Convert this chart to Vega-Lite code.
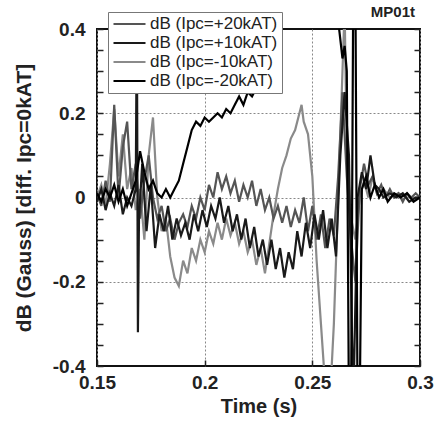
{
 "$schema": "https://vega.github.io/schema/vega-lite/v6.json",
 "width": 323, "height": 337,
 "autosize": "none",
 "padding": {"left": 97, "top": 29, "right": 20, "bottom": 55},
 "background": "white",
 "config": {"view": {"stroke": "#111", "strokeWidth": 2}, "font": "Liberation Sans"},
 "title": {"text": "MP01t", "anchor": "end", "frame": "group", "dx": -5, "fontSize": 15, "fontWeight": "bold", "font": "Liberation Sans", "color": "#222", "offset": -8},
 "data": {"values": [
  {"t":0.150,"v":0.0,"s":"-10"},{"t":0.152,"v":0.03,"s":"-10"},{"t":0.154,"v":-0.02,"s":"-10"},{"t":0.156,"v":0.08,"s":"-10"},{"t":0.158,"v":0.21,"s":"-10"},{"t":0.160,"v":0.05,"s":"-10"},{"t":0.162,"v":0.15,"s":"-10"},{"t":0.164,"v":0.02,"s":"-10"},{"t":0.166,"v":0.07,"s":"-10"},{"t":0.168,"v":-0.03,"s":"-10"},{"t":0.170,"v":0.02,"s":"-10"},{"t":0.172,"v":-0.1,"s":"-10"},{"t":0.174,"v":0.1,"s":"-10"},{"t":0.176,"v":0.19,"s":"-10"},{"t":0.178,"v":0.0,"s":"-10"},{"t":0.180,"v":-0.08,"s":"-10"},{"t":0.182,"v":-0.05,"s":"-10"},{"t":0.184,"v":-0.14,"s":"-10"},{"t":0.186,"v":-0.19,"s":"-10"},{"t":0.188,"v":-0.21,"s":"-10"},{"t":0.190,"v":-0.15,"s":"-10"},{"t":0.192,"v":-0.18,"s":"-10"},{"t":0.194,"v":-0.12,"s":"-10"},{"t":0.196,"v":-0.15,"s":"-10"},{"t":0.198,"v":-0.1,"s":"-10"},{"t":0.200,"v":-0.13,"s":"-10"},{"t":0.202,"v":-0.08,"s":"-10"},{"t":0.204,"v":-0.11,"s":"-10"},{"t":0.206,"v":-0.06,"s":"-10"},{"t":0.208,"v":-0.1,"s":"-10"},{"t":0.210,"v":-0.05,"s":"-10"},{"t":0.212,"v":-0.09,"s":"-10"},{"t":0.214,"v":-0.06,"s":"-10"},{"t":0.216,"v":-0.11,"s":"-10"},{"t":0.218,"v":-0.08,"s":"-10"},{"t":0.220,"v":-0.13,"s":"-10"},{"t":0.222,"v":-0.1,"s":"-10"},{"t":0.224,"v":-0.16,"s":"-10"},{"t":0.226,"v":-0.12,"s":"-10"},{"t":0.228,"v":-0.18,"s":"-10"},{"t":0.230,"v":-0.11,"s":"-10"},{"t":0.232,"v":-0.04,"s":"-10"},{"t":0.234,"v":0.02,"s":"-10"},{"t":0.236,"v":0.07,"s":"-10"},{"t":0.238,"v":0.1,"s":"-10"},{"t":0.240,"v":0.14,"s":"-10"},{"t":0.242,"v":0.16,"s":"-10"},{"t":0.244,"v":0.2,"s":"-10"},{"t":0.245,"v":0.22,"s":"-10"},{"t":0.246,"v":0.18,"s":"-10"},{"t":0.248,"v":0.15,"s":"-10"},{"t":0.250,"v":0.05,"s":"-10"},{"t":0.252,"v":-0.15,"s":"-10"},{"t":0.254,"v":-0.3,"s":"-10"},{"t":0.256,"v":-0.45,"s":"-10"},{"t":0.258,"v":-0.5,"s":"-10"},{"t":0.260,"v":-0.3,"s":"-10"},{"t":0.262,"v":0.0,"s":"-10"},{"t":0.264,"v":0.3,"s":"-10"},{"t":0.265,"v":0.45,"s":"-10"},{"t":0.266,"v":0.1,"s":"-10"},{"t":0.268,"v":-0.05,"s":"-10"},{"t":0.270,"v":-0.1,"s":"-10"},{"t":0.272,"v":0.0,"s":"-10"},{"t":0.274,"v":0.04,"s":"-10"},{"t":0.276,"v":0.0,"s":"-10"},{"t":0.278,"v":0.05,"s":"-10"},{"t":0.280,"v":0.01,"s":"-10"},{"t":0.283,"v":0.02,"s":"-10"},{"t":0.286,"v":0.0,"s":"-10"},{"t":0.290,"v":0.01,"s":"-10"},{"t":0.294,"v":0.0,"s":"-10"},{"t":0.300,"v":0.0,"s":"-10"},

  {"t":0.150,"v":0.01,"s":"+20"},{"t":0.152,"v":-0.02,"s":"+20"},{"t":0.154,"v":0.04,"s":"+20"},{"t":0.156,"v":-0.01,"s":"+20"},{"t":0.158,"v":0.22,"s":"+20"},{"t":0.160,"v":0.0,"s":"+20"},{"t":0.162,"v":0.12,"s":"+20"},{"t":0.164,"v":0.18,"s":"+20"},{"t":0.166,"v":0.02,"s":"+20"},{"t":0.168,"v":0.08,"s":"+20"},{"t":0.170,"v":-0.05,"s":"+20"},{"t":0.172,"v":0.04,"s":"+20"},{"t":0.174,"v":0.1,"s":"+20"},{"t":0.176,"v":0.0,"s":"+20"},{"t":0.178,"v":-0.05,"s":"+20"},{"t":0.180,"v":-0.02,"s":"+20"},{"t":0.182,"v":-0.08,"s":"+20"},{"t":0.184,"v":-0.05,"s":"+20"},{"t":0.186,"v":-0.1,"s":"+20"},{"t":0.188,"v":-0.06,"s":"+20"},{"t":0.190,"v":-0.04,"s":"+20"},{"t":0.192,"v":-0.07,"s":"+20"},{"t":0.194,"v":-0.02,"s":"+20"},{"t":0.196,"v":-0.05,"s":"+20"},{"t":0.198,"v":0.0,"s":"+20"},{"t":0.200,"v":-0.03,"s":"+20"},{"t":0.202,"v":0.03,"s":"+20"},{"t":0.204,"v":0.0,"s":"+20"},{"t":0.206,"v":0.06,"s":"+20"},{"t":0.208,"v":0.02,"s":"+20"},{"t":0.210,"v":0.05,"s":"+20"},{"t":0.212,"v":0.01,"s":"+20"},{"t":0.214,"v":0.04,"s":"+20"},{"t":0.216,"v":-0.01,"s":"+20"},{"t":0.218,"v":0.03,"s":"+20"},{"t":0.220,"v":0.0,"s":"+20"},{"t":0.222,"v":0.04,"s":"+20"},{"t":0.224,"v":-0.02,"s":"+20"},{"t":0.226,"v":0.02,"s":"+20"},{"t":0.228,"v":-0.03,"s":"+20"},{"t":0.230,"v":0.0,"s":"+20"},{"t":0.232,"v":-0.05,"s":"+20"},{"t":0.234,"v":-0.02,"s":"+20"},{"t":0.236,"v":-0.06,"s":"+20"},{"t":0.238,"v":-0.02,"s":"+20"},{"t":0.240,"v":-0.07,"s":"+20"},{"t":0.242,"v":-0.03,"s":"+20"},{"t":0.244,"v":-0.06,"s":"+20"},{"t":0.246,"v":0.0,"s":"+20"},{"t":0.248,"v":-0.08,"s":"+20"},{"t":0.250,"v":-0.02,"s":"+20"},{"t":0.252,"v":-0.1,"s":"+20"},{"t":0.254,"v":-0.04,"s":"+20"},{"t":0.256,"v":-0.12,"s":"+20"},{"t":0.258,"v":-0.05,"s":"+20"},{"t":0.260,"v":-0.09,"s":"+20"},{"t":0.262,"v":0.05,"s":"+20"},{"t":0.264,"v":0.25,"s":"+20"},{"t":0.266,"v":0.05,"s":"+20"},{"t":0.268,"v":-0.1,"s":"+20"},{"t":0.270,"v":-0.2,"s":"+20"},{"t":0.272,"v":0.02,"s":"+20"},{"t":0.274,"v":0.08,"s":"+20"},{"t":0.276,"v":0.03,"s":"+20"},{"t":0.278,"v":0.05,"s":"+20"},{"t":0.280,"v":0.01,"s":"+20"},{"t":0.282,"v":0.03,"s":"+20"},{"t":0.284,"v":0.0,"s":"+20"},{"t":0.286,"v":0.02,"s":"+20"},{"t":0.288,"v":0.0,"s":"+20"},{"t":0.290,"v":0.01,"s":"+20"},{"t":0.292,"v":-0.01,"s":"+20"},{"t":0.294,"v":0.01,"s":"+20"},{"t":0.296,"v":0.0,"s":"+20"},{"t":0.298,"v":0.01,"s":"+20"},{"t":0.300,"v":0.0,"s":"+20"},

  {"t":0.150,"v":-0.01,"s":"+10"},{"t":0.152,"v":0.02,"s":"+10"},{"t":0.154,"v":-0.03,"s":"+10"},{"t":0.156,"v":0.01,"s":"+10"},{"t":0.158,"v":-0.02,"s":"+10"},{"t":0.160,"v":0.03,"s":"+10"},{"t":0.162,"v":-0.04,"s":"+10"},{"t":0.164,"v":0.0,"s":"+10"},{"t":0.166,"v":-0.02,"s":"+10"},{"t":0.168,"v":0.02,"s":"+10"},{"t":0.1685,"v":0.45,"s":"+10"},{"t":0.169,"v":-0.32,"s":"+10"},{"t":0.1695,"v":-0.05,"s":"+10"},{"t":0.171,"v":0.08,"s":"+10"},{"t":0.173,"v":-0.08,"s":"+10"},{"t":0.175,"v":0.03,"s":"+10"},{"t":0.177,"v":-0.12,"s":"+10"},{"t":0.179,"v":-0.04,"s":"+10"},{"t":0.181,"v":-0.08,"s":"+10"},{"t":0.183,"v":-0.02,"s":"+10"},{"t":0.185,"v":-0.1,"s":"+10"},{"t":0.187,"v":-0.05,"s":"+10"},{"t":0.189,"v":-0.09,"s":"+10"},{"t":0.191,"v":-0.06,"s":"+10"},{"t":0.193,"v":-0.1,"s":"+10"},{"t":0.195,"v":-0.04,"s":"+10"},{"t":0.197,"v":-0.08,"s":"+10"},{"t":0.199,"v":-0.03,"s":"+10"},{"t":0.201,"v":-0.07,"s":"+10"},{"t":0.203,"v":-0.02,"s":"+10"},{"t":0.205,"v":-0.05,"s":"+10"},{"t":0.207,"v":0.0,"s":"+10"},{"t":0.209,"v":-0.06,"s":"+10"},{"t":0.211,"v":-0.02,"s":"+10"},{"t":0.213,"v":-0.08,"s":"+10"},{"t":0.215,"v":-0.04,"s":"+10"},{"t":0.217,"v":-0.1,"s":"+10"},{"t":0.219,"v":-0.05,"s":"+10"},{"t":0.221,"v":-0.12,"s":"+10"},{"t":0.223,"v":-0.07,"s":"+10"},{"t":0.225,"v":-0.14,"s":"+10"},{"t":0.227,"v":-0.1,"s":"+10"},{"t":0.229,"v":-0.16,"s":"+10"},{"t":0.231,"v":-0.1,"s":"+10"},{"t":0.233,"v":-0.17,"s":"+10"},{"t":0.235,"v":-0.12,"s":"+10"},{"t":0.237,"v":-0.19,"s":"+10"},{"t":0.239,"v":-0.13,"s":"+10"},{"t":0.241,"v":-0.17,"s":"+10"},{"t":0.243,"v":-0.08,"s":"+10"},{"t":0.245,"v":-0.14,"s":"+10"},{"t":0.247,"v":-0.06,"s":"+10"},{"t":0.249,"v":-0.12,"s":"+10"},{"t":0.251,"v":-0.04,"s":"+10"},{"t":0.253,"v":-0.1,"s":"+10"},{"t":0.255,"v":-0.03,"s":"+10"},{"t":0.257,"v":-0.12,"s":"+10"},{"t":0.259,"v":-0.05,"s":"+10"},{"t":0.261,"v":-0.14,"s":"+10"},{"t":0.263,"v":0.1,"s":"+10"},{"t":0.265,"v":0.25,"s":"+10"},{"t":0.267,"v":0.1,"s":"+10"},{"t":0.269,"v":-0.5,"s":"+10"},{"t":0.271,"v":0.0,"s":"+10"},{"t":0.273,"v":0.06,"s":"+10"},{"t":0.275,"v":0.02,"s":"+10"},{"t":0.277,"v":0.1,"s":"+10"},{"t":0.279,"v":0.03,"s":"+10"},{"t":0.281,"v":0.02,"s":"+10"},{"t":0.283,"v":0.0,"s":"+10"},{"t":0.286,"v":0.01,"s":"+10"},{"t":0.289,"v":0.0,"s":"+10"},{"t":0.292,"v":0.01,"s":"+10"},{"t":0.295,"v":-0.01,"s":"+10"},{"t":0.298,"v":0.0,"s":"+10"},{"t":0.300,"v":0.0,"s":"+10"},

  {"t":0.150,"v":0.01,"s":"-20"},{"t":0.152,"v":-0.01,"s":"-20"},{"t":0.154,"v":0.02,"s":"-20"},{"t":0.156,"v":0.0,"s":"-20"},{"t":0.158,"v":0.03,"s":"-20"},{"t":0.160,"v":-0.01,"s":"-20"},{"t":0.162,"v":0.02,"s":"-20"},{"t":0.164,"v":-0.02,"s":"-20"},{"t":0.166,"v":0.01,"s":"-20"},{"t":0.168,"v":0.04,"s":"-20"},{"t":0.170,"v":0.11,"s":"-20"},{"t":0.172,"v":0.06,"s":"-20"},{"t":0.174,"v":0.02,"s":"-20"},{"t":0.176,"v":0.04,"s":"-20"},{"t":0.178,"v":0.01,"s":"-20"},{"t":0.180,"v":0.0,"s":"-20"},{"t":0.182,"v":0.02,"s":"-20"},{"t":0.184,"v":0.0,"s":"-20"},{"t":0.186,"v":0.02,"s":"-20"},{"t":0.188,"v":0.04,"s":"-20"},{"t":0.190,"v":0.08,"s":"-20"},{"t":0.192,"v":0.12,"s":"-20"},{"t":0.194,"v":0.16,"s":"-20"},{"t":0.196,"v":0.18,"s":"-20"},{"t":0.198,"v":0.17,"s":"-20"},{"t":0.200,"v":0.19,"s":"-20"},{"t":0.202,"v":0.18,"s":"-20"},{"t":0.204,"v":0.19,"s":"-20"},{"t":0.206,"v":0.2,"s":"-20"},{"t":0.208,"v":0.19,"s":"-20"},{"t":0.210,"v":0.21,"s":"-20"},{"t":0.212,"v":0.2,"s":"-20"},{"t":0.214,"v":0.22,"s":"-20"},{"t":0.216,"v":0.24,"s":"-20"},{"t":0.218,"v":0.22,"s":"-20"},{"t":0.220,"v":0.25,"s":"-20"},{"t":0.222,"v":0.24,"s":"-20"},{"t":0.224,"v":0.26,"s":"-20"},{"t":0.226,"v":0.27,"s":"-20"},{"t":0.228,"v":0.3,"s":"-20"},{"t":0.230,"v":0.34,"s":"-20"},{"t":0.232,"v":0.36,"s":"-20"},{"t":0.234,"v":0.39,"s":"-20"},{"t":0.236,"v":0.45,"s":"-20"},{"t":0.240,"v":0.55,"s":"-20"},{"t":0.250,"v":0.55,"s":"-20"},{"t":0.260,"v":0.5,"s":"-20"},{"t":0.262,"v":0.42,"s":"-20"},{"t":0.264,"v":0.33,"s":"-20"},{"t":0.265,"v":0.36,"s":"-20"},{"t":0.266,"v":0.3,"s":"-20"},{"t":0.267,"v":-0.5,"s":"-20"},{"t":0.268,"v":-0.5,"s":"-20"},{"t":0.269,"v":0.5,"s":"-20"},{"t":0.270,"v":0.5,"s":"-20"},{"t":0.271,"v":-0.5,"s":"-20"},{"t":0.272,"v":-0.5,"s":"-20"},{"t":0.273,"v":0.02,"s":"-20"},{"t":0.275,"v":0.05,"s":"-20"},{"t":0.277,"v":0.0,"s":"-20"},{"t":0.279,"v":0.03,"s":"-20"},{"t":0.281,"v":0.0,"s":"-20"},{"t":0.283,"v":0.02,"s":"-20"},{"t":0.285,"v":-0.01,"s":"-20"},{"t":0.288,"v":0.01,"s":"-20"},{"t":0.291,"v":0.0,"s":"-20"},{"t":0.294,"v":0.01,"s":"-20"},{"t":0.297,"v":-0.01,"s":"-20"},{"t":0.300,"v":0.0,"s":"-20"}
 ]},
 "layer": [
  {
   "mark": {"type": "line", "clip": true},
   "encoding": {
    "x": {"field": "t", "type": "quantitative",
      "scale": {"domain": [0.15, 0.3], "nice": false, "zero": false},
      "axis": {"title": "Time (s)", "values": [0.15, 0.2, 0.25, 0.3], "format": "~g",
        "labelFontSize": 19, "labelFontWeight": "bold", "labelColor": "#222", "labelFont": "Liberation Sans",
        "titleFontSize": 20, "titleFontWeight": "bold", "titleColor": "#222", "titleFont": "Liberation Sans",
        "labelPadding": 13, "titlePadding": 4, "tickSize": -6, "tickColor": "#222", "tickWidth": 1.5,
        "domain": false, "grid": true, "gridDash": [2, 2], "gridColor": "#888", "labelFlush": false}},
    "y": {"field": "v", "type": "quantitative",
      "scale": {"domain": [-0.4, 0.4], "nice": false, "zero": false},
      "axis": {"title": "dB (Gauss) [diff. Ipc=0kAT]",
        "values": [-0.4, -0.35, -0.3, -0.25, -0.2, -0.15, -0.1, -0.05, 0, 0.05, 0.1, 0.15, 0.2, 0.25, 0.3, 0.35, 0.4],
        "labelExpr": "indexof([-0.4, -0.2, 0, 0.2, 0.4], datum.value) >= 0 ? '' + datum.value : ''",
        "labelFontSize": 19, "labelFontWeight": "bold", "labelColor": "#222", "labelFont": "Liberation Sans",
        "titleFontSize": 21, "titleFontWeight": "bold", "titleColor": "#222", "titleFont": "Liberation Sans",
        "labelPadding": 18, "titlePadding": 18, "tickSize": -6, "tickColor": "#222", "tickWidth": 1.5,
        "domain": false, "grid": true, "gridDash": [2, 2], "gridColor": "#888", "labelFlush": false,
        "gridOpacity": {"condition": {"test": "datum.value == 0 || abs(datum.value) == 0.2", "value": 1}, "value": 0}}},
    "color": {"field": "s", "type": "nominal",
      "scale": {"domain": ["+20", "+10", "-10", "-20"], "range": ["#555555", "#1a1a1a", "#8a8a8a", "#000000"]},
      "legend": {"orient": "none", "legendX": 11, "legendY": -17, "title": null,
        "fillColor": "white", "strokeColor": "#777", "padding": 4,
        "symbolType": "stroke", "symbolSize": 1024, "symbolStrokeWidth": 2,
        "clipHeight": 16, "rowPadding": 2, "labelFontSize": 17, "labelFont": "Liberation Sans", "labelColor": "#222",
        "labelExpr": "'dB (Ipc=' + datum.label + 'kAT)'", "labelOffset": 3, "labelLimit": 300}},
    "strokeWidth": {"field": "s", "type": "nominal",
      "scale": {"domain": ["+20", "+10", "-10", "-20"], "range": [2.2, 2.2, 2.2, 3.2]}, "legend": null}
   }
  },
  {
   "data": {"values": [{}]},
   "mark": {"type": "rule", "strokeOpacity": 0},
   "encoding": {
    "y": {"datum": 0, "type": "quantitative",
      "scale": {"domain": [-0.4, 0.4], "nice": false, "zero": false},
      "axis": {"orient": "right", "title": null, "labels": false, "domain": false, "grid": false,
        "values": [-0.4, -0.35, -0.3, -0.25, -0.2, -0.15, -0.1, -0.05, 0, 0.05, 0.1, 0.15, 0.2, 0.25, 0.3, 0.35, 0.4],
        "tickSize": -6, "tickColor": "#222", "tickWidth": 1.5}}
   }
  }
 ],
 "resolve": {"axis": {"y": "independent"}}
}
